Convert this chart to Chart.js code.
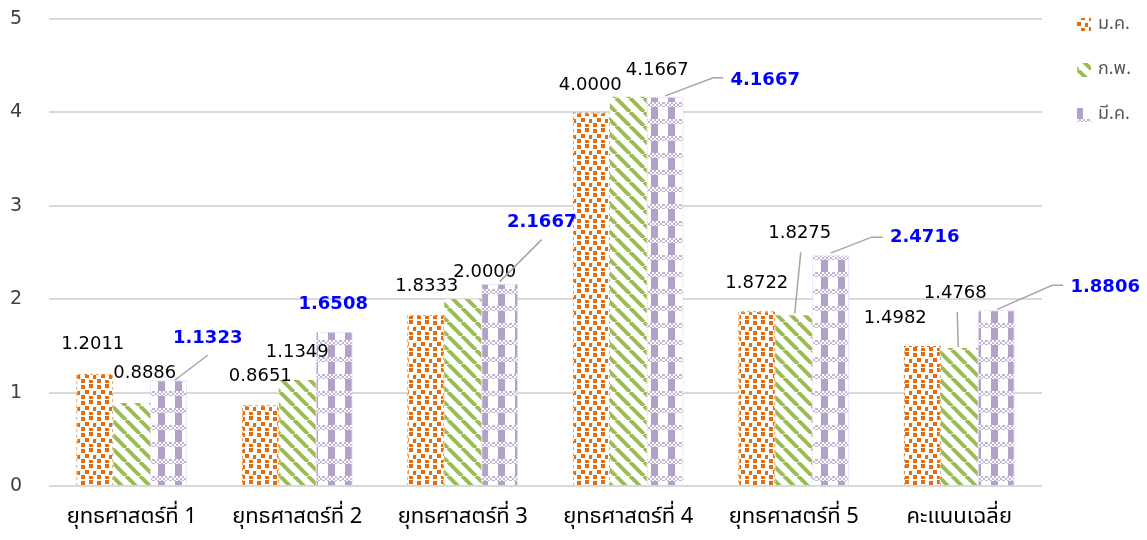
<!DOCTYPE html>
<html lang="th">
<head>
  <meta charset="UTF-8">
  <title>ยุทธศาสตร์</title>

  <!-- Chart.js -->
  <script src="https://cdn.jsdelivr.net/npm/chart.js@4"></script>

  <style>
    * {
      margin: 0;
      padding: 0;
      box-sizing: border-box;
    }

    body {
      background: #fff;
      width: 1147px;
      height: 540px;
      overflow: hidden;
    }

    .wrap {
      position: relative;
      width: 1147px;
      height: 540px;
    }
  </style>
</head>

<body>
  <div class="wrap">
    <canvas id="chart" width="1147" height="540"></canvas>
  </div>

  <script>
    // data
    const categories = ['ยุทธศาสตร์ที่ 1', 'ยุทธศาสตร์ที่ 2', 'ยุทธศาสตร์ที่ 3', 'ยุทธศาสตร์ที่ 4', 'ยุทธศาสตร์ที่ 5', 'คะแนนเฉลี่ย'];
    const seriesNames = ['ม.ค.', 'ก.พ.', 'มี.ค.'];
    const janValues = [1.2011, 0.8651, 1.8333, 4.0000, 1.8722, 1.4982];
    const febValues = [0.8886, 1.1349, 2.0000, 4.1667, 1.8275, 1.4768];
    const marValues = [1.1323, 1.6508, 2.1667, 4.1667, 2.4716, 1.8806];
    const yMin = 0, yMax = 5, yStep = 1;

    const numFont = "'DejaVu Sans', Verdana, sans-serif";
    const thaiFont = "Tahoma, 'Noto Sans Thai', 'Loma', 'Garuda', 'DejaVu Sans', sans-serif";

    // fill patterns, like the Excel pattern fills
    function makeTile(w, h, draw) {
      const c = document.createElement('canvas');
      c.width = w;
      c.height = h;
      const g = c.getContext('2d');
      draw(g, w, h);
      return g.createPattern(c, 'repeat');
    }

    const orange = '#e46c0a', green = '#9bbb59', purple = '#b3a2c7';

    const orangeFill = makeTile(16, 16, (g, w, h) => {
      g.fillStyle = '#fff';
      g.fillRect(0, 0, w, h);
      g.fillStyle = orange;
      g.fillRect(1, 1, 4, 4);
      g.fillRect(9, 0, 4, 4);
      g.fillRect(5, 6, 4, 4);
      g.fillRect(13, 7, 3, 4);
      g.fillRect(1, 11, 4, 4);
      g.fillRect(9, 12, 4, 3);
    });
    const orangeEdge = makeTile(6, 6, (g) => {
      g.fillStyle = '#fff';
      g.fillRect(0, 0, 6, 6);
      g.fillStyle = orange;
      g.fillRect(0, 0, 3, 3);
      g.fillRect(3, 3, 3, 3);
    });

    const greenFill = makeTile(14, 14, (g, w, h) => {
      g.fillStyle = '#fff';
      g.fillRect(0, 0, w, h);
      g.strokeStyle = green;
      g.lineWidth = 4;
      for (let k = -1; k <= 1; k++) {
        g.beginPath();
        g.moveTo(k * w, 0);
        g.lineTo(k * w + w, h);
        g.stroke();
      }
    });

    const purpleFill = makeTile(17, 17, (g, w, h) => {
      g.fillStyle = '#fff';
      g.fillRect(0, 0, w, h);
      g.fillStyle = purple;
      g.fillRect(5, 0, 7, h);
      // checkered band
      for (let x = 0; x < w; x++) {
        for (let y = 0; y < 5; y++) {
          g.fillStyle = ((x >> 1) + (y >> 1)) % 2 === 0 ? '#c3b5d6' : '#fff';
          g.fillRect(x, y, 1, 1);
        }
      }
    });
    const purpleEdge = makeTile(2, 2, (g) => {
      g.fillStyle = '#fff';
      g.fillRect(0, 0, 2, 2);
      g.fillStyle = '#c9bddb';
      g.fillRect(0, 0, 1, 1);
      g.fillRect(1, 1, 1, 1);
    });

    // where each value label sits, relative to the top centre of its bar
    const labelLayout = [
      [{ dx: -2, dy: -29 }, { dx: 0, dy: -29 }, { dx: 1, dy: -28 }, { dx: -1, dy: -27 }, { dx: 0, dy: -28 }, { dx: -27, dy: -28 }],
      [{ dx: 13, dy: -30 }, { dx: 0, dy: -28 }, { dx: 22, dy: -27 }, { dx: 29, dy: -27 },
       { dx: 6, dy: -82, line: [[1, -2], [7, -63]] }, { dx: -4, dy: -55, line: [[-1, -1], [-2, -36]] }],
      [{ dx: 39, dy: -42, line: [[6, 0], [39, -25]] }, { dx: -1, dy: -27 },
       { dx: 42, dy: -61, line: [[0, -2], [42, -44]] }, { dx: 100, dy: -17, line: [[0, -1], [48, -19], [58, -19]] },
       { dx: 94, dy: -18, line: [[0, -2], [41, -18], [52, -18]] }, { dx: 109, dy: -23, line: [[1, -1], [56, -25], [67, -25]] }]
    ];

    const valueLabels = {
      id: 'valueLabels',
      afterDatasetsDraw(chart) {
        const ctx = chart.ctx;
        ctx.save();
        chart.data.datasets.forEach((ds, i) => {
          const meta = chart.getDatasetMeta(i);
          meta.data.forEach((bar, j) => {
            const lay = labelLayout[i][j];
            const blue = i === 2;
            ctx.font = (blue ? 'bold ' : '') + '18px ' + numFont;
            ctx.fillStyle = blue ? '#0000ff' : '#000';
            ctx.textAlign = 'center';
            ctx.textBaseline = 'middle';
            ctx.fillText(ds.data[j].toFixed(4), bar.x + lay.dx, bar.y + lay.dy);
            if (lay.line) {
              ctx.strokeStyle = '#a6a6a6';
              ctx.lineWidth = 1.5;
              ctx.beginPath();
              lay.line.forEach((p, k) => {
                if (k === 0) ctx.moveTo(bar.x + p[0], bar.y + p[1]);
                else ctx.lineTo(bar.x + p[0], bar.y + p[1]);
              });
              ctx.stroke();
            }
          });
        });
        ctx.restore();
      }
    };

    // legend drawn at the right, one sample box per series
    const sideLegend = {
      id: 'sideLegend',
      afterDraw(chart) {
        const ctx = chart.ctx;
        const left = chart.chartArea.right + 35;
        ctx.save();
        chart.data.datasets.forEach((ds, i) => {
          const cy = 25 + i * 45;
          ctx.fillStyle = ds.backgroundColor;
          ctx.fillRect(left, cy - 7, 14, 14);
          ctx.fillStyle = '#595959';
          ctx.font = '18px ' + thaiFont;
          ctx.textAlign = 'left';
          ctx.textBaseline = 'middle';
          ctx.fillText(ds.label, left + 21, cy);
        });
        ctx.restore();
      }
    };

    const ctx = document.getElementById('chart').getContext('2d');
    new Chart(ctx, {
      type: 'bar',
      data: {
        labels: categories,
        datasets: [
          { label: seriesNames[0], data: janValues, backgroundColor: orangeFill, borderColor: orangeEdge, borderWidth: 1 },
          { label: seriesNames[1], data: febValues, backgroundColor: greenFill, borderWidth: 0 },
          { label: seriesNames[2], data: marValues, backgroundColor: purpleFill, borderColor: purpleEdge, borderWidth: 1 }
        ]
      },
      options: {
        responsive: false,
        animation: false,
        devicePixelRatio: 1,
        layout: { padding: { top: 19, right: 105, left: 0, bottom: 0 } },
        datasets: {
          bar: { categoryPercentage: 0.67, barPercentage: 1 }
        },
        plugins: {
          legend: { display: false },
          tooltip: { enabled: false }
        },
        scales: {
          x: {
            grid: { display: false, drawTicks: false },
            border: { display: false },
            ticks: { padding: 19, color: '#000', font: { family: thaiFont, size: 22 } },
            afterFit: s => { s.height = 54; }
          },
          y: {
            min: yMin,
            max: yMax,
            ticks: { stepSize: yStep, padding: 27, color: '#404040', font: { family: numFont, size: 19 } },
            grid: { color: '#d9d9d9', lineWidth: 2, drawTicks: false },
            border: { display: false },
            afterFit: s => {
              s.width = 49;
              s.paddingTop = 0;
              s.paddingBottom = 0;
            }
          }
        }
      },
      plugins: [valueLabels, sideLegend]
    });
  </script>
</body>
</html>
